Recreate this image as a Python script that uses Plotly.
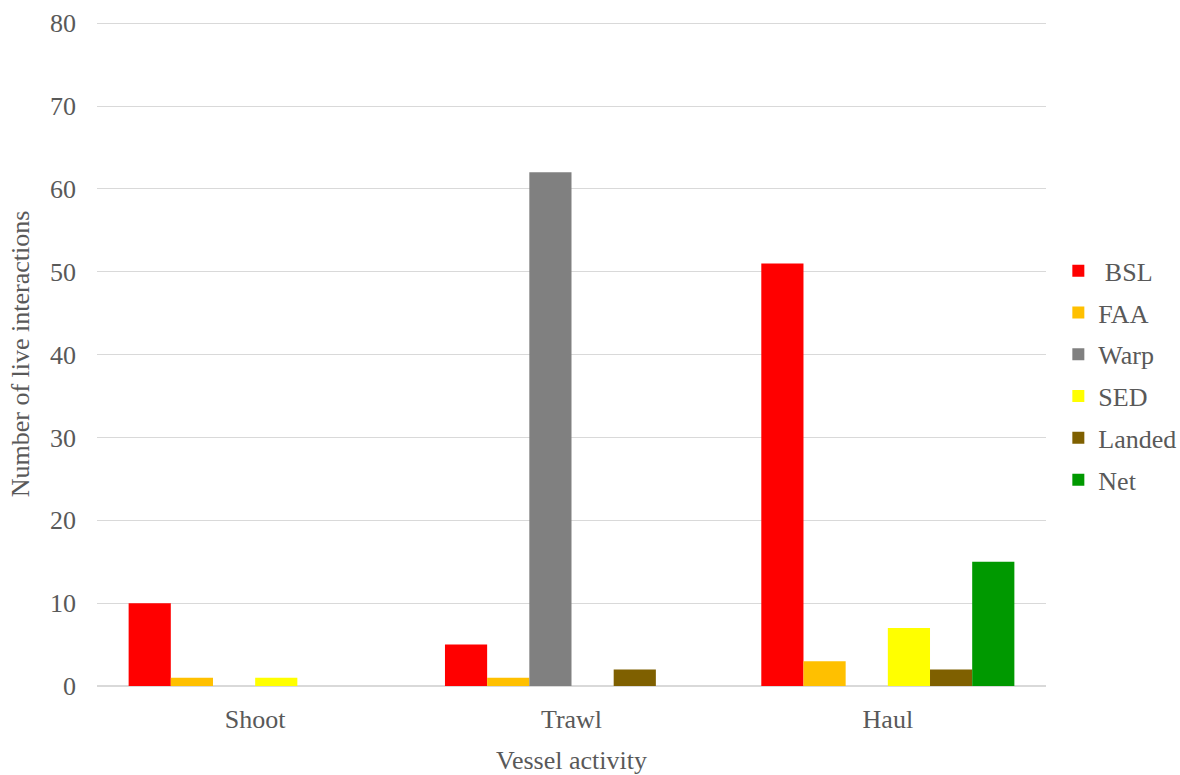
import plotly.graph_objects as go

categories = ["Shoot", "Trawl", "Haul"]
series_names = [" BSL", "FAA", "Warp", "SED", "Landed", "Net"]
bsl = [10, 5, 51]
faa = [1, 1, 3]
warp = [0, 62, 0]
sed = [1, 0, 7]
landed = [0, 2, 2]
net = [0, 0, 15]
colors = ["#FF0000", "#FFC000", "#808080", "#FFFF00", "#7F6000", "#009900"]

values = [bsl, faa, warp, sed, landed, net]
font_family = "Liberation Serif, Times New Roman, serif"
gray = "#595959"
fs = 26

fig = go.Figure()
for name, vals, col in zip(series_names, values, colors):
    fig.add_trace(go.Bar(x=categories, y=vals, name=name, marker_color=col,
                         marker_line_width=0, legendgroup=name))

fig.update_layout(
    width=1180, height=775,
    barmode="group", bargap=0.2, bargroupgap=0,
    paper_bgcolor="white", plot_bgcolor="white",
    margin=dict(l=97, r=134, t=22, b=89, autoexpand=False),
    font=dict(family=font_family, color=gray, size=fs),
    legend=dict(x=1.013, y=0.468, xanchor="left", yanchor="middle",
                font=dict(size=fs, color=gray, family=font_family),
                tracegroupgap=5, itemwidth=30),
    xaxis=dict(title=dict(text="Vessel activity", standoff=33,
                          font=dict(size=fs, color=gray)),
               tickfont=dict(size=fs, color=gray), showgrid=False, automargin=False,
               showline=True, linecolor="#d9d9d9", linewidth=1, ticks="",
               ticklabelstandoff=10),
    yaxis=dict(title=dict(text="Number of live interactions", standoff=12,
                          font=dict(size=fs, color=gray)),
               range=[0, 80.15], tickvals=[0, 10, 20, 30, 40, 50, 60, 70, 80],
               tickfont=dict(size=fs, color=gray), automargin=False,
               showgrid=True, gridcolor="#d9d9d9", gridwidth=1,
               zeroline=True, zerolinecolor="#d9d9d9", ticks="", ticklabelstandoff=20),
)

fig.write_html("out.html", config={"displayModeBar": False},
               post_script="document.body.style.margin='0';")
